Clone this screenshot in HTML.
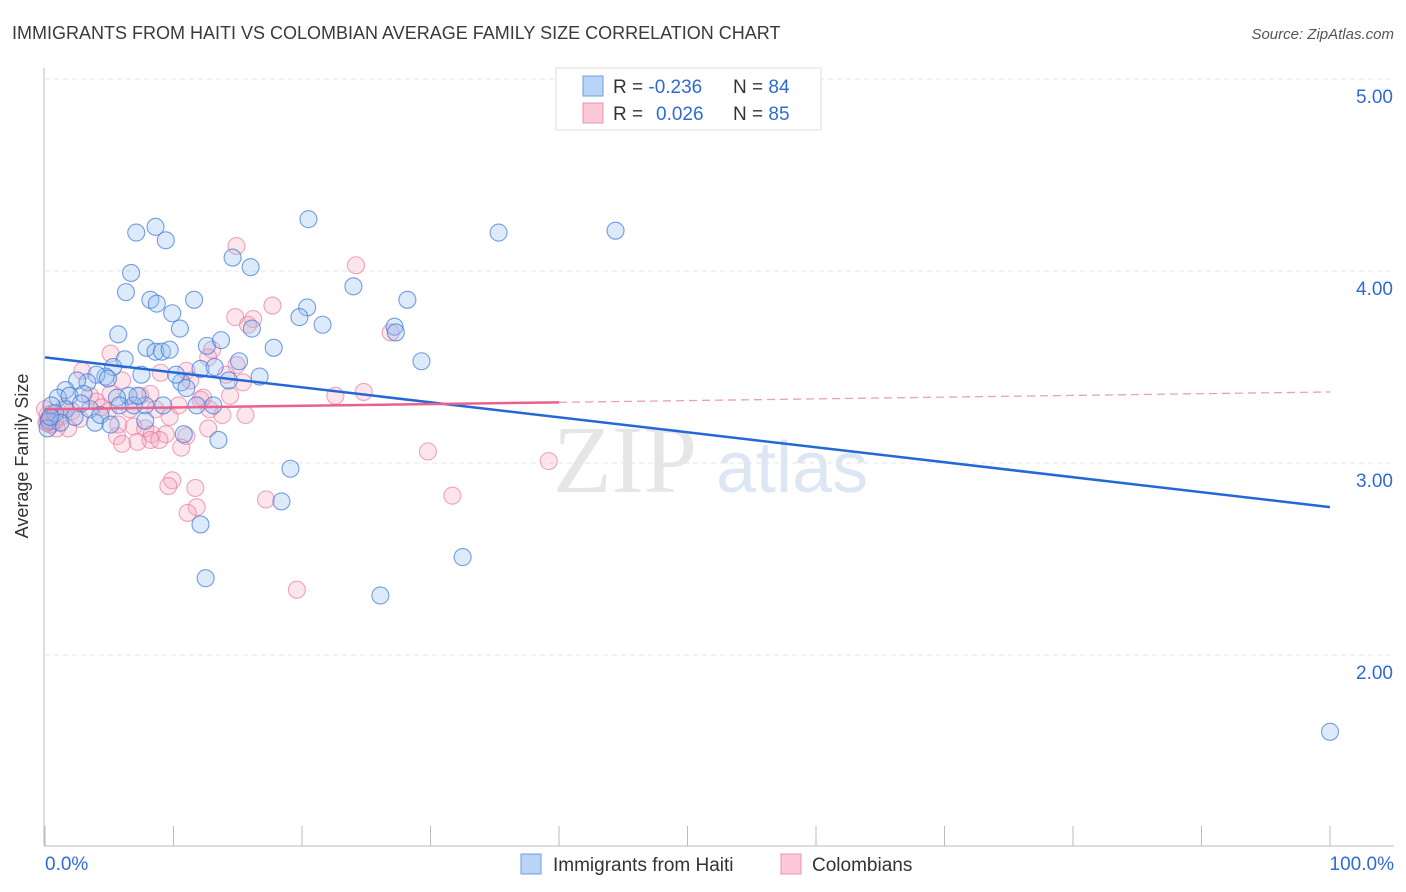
<!DOCTYPE html>
<html><head><meta charset="utf-8"><style>
body{margin:0;background:#fff;font-family:"Liberation Sans",sans-serif}
svg{display:block}
</style></head><body>
<svg id="chart" width="1406" height="892" xmlns="http://www.w3.org/2000/svg">
<text x="12" y="39" font-size="18" fill="#3a3a3a">IMMIGRANTS FROM HAITI VS COLOMBIAN AVERAGE FAMILY SIZE CORRELATION CHART</text>
<text x="1394" y="39" font-size="15" font-style="italic" fill="#555" text-anchor="end">Source: ZipAtlas.com</text>
<text x="28" y="456" font-size="18" fill="#333" text-anchor="middle" transform="rotate(-90 28 456)">Average Family Size</text>
<g><text x="553" y="492" font-size="96" font-family="Liberation Serif,serif" fill="#e6e6e6">ZIP</text><text x="716" y="492" font-size="72" fill="#dde7f4">atlas</text></g>
<g id="grid"></g><g id="axes"></g><g id="pts"></g><g id="lines"></g>
<g>
<rect x="556" y="68" width="265" height="62" fill="#fff" stroke="#ddd"/>
<rect x="583" y="76" width="20" height="20" fill="#b9d4f7" stroke="#6d9de6"/>
<rect x="583" y="103" width="20" height="20" fill="#fbc9d8" stroke="#eb93ad"/>
<text x="613" y="93" font-size="19" fill="#333">R = <tspan fill="#2f6bd5">-0.236</tspan><tspan x="733">N = </tspan><tspan fill="#2f6bd5">84</tspan></text>
<text x="613" y="120" font-size="19" fill="#333">R = <tspan fill="#2f6bd5" x="656">0.026</tspan><tspan x="733">N = </tspan><tspan fill="#2f6bd5">85</tspan></text>
</g>
<g>
<rect x="521" y="854" width="20" height="20" fill="#b9d4f7" stroke="#6d9de6"/>
<text x="553" y="871" font-size="19" fill="#333">Immigrants from Haiti</text>
<rect x="781" y="854" width="20" height="20" fill="#fbc9d8" stroke="#eb93ad"/>
<text x="812" y="871" font-size="19" fill="#333">Colombians</text>
</g>
</svg>
<script>
const yTicks=[5,4,3,2];
const yTickLabels=["5.00","4.00","3.00","2.00"];
const xTickLabels=["0.0%","100.0%"];
const blueX=[7.1,8.6,9.4,6.7,6.3,8.2,8.7,11.6,9.9,10.5,5.7,7.9,8.6,9.1,9.7,6.2,12.6,13.7,14.6,16.0,16.1,15.1,17.8,16.7,20.5,20.4,19.8,21.6,24.0,28.2,27.2,27.3,29.3,35.3,44.4,12.1,13.2,14.3,10.6,11.0,7.5,5.3,4.7,4.0,4.9,3.3,2.5,1.6,1.0,1.9,3.0,6.5,5.6,7.8,9.2,11.8,13.1,5.8,3.5,1.6,2.3,0.8,0.3,3.9,7.8,10.8,13.5,19.1,18.4,12.1,12.5,32.5,26.1,100,0.5,1.2,4.3,6.9,7.2,10.2,5.1,2.8,0.2,0.4];
const blueY=[4.20,4.23,4.16,3.99,3.89,3.85,3.83,3.85,3.78,3.70,3.67,3.60,3.58,3.58,3.59,3.54,3.61,3.64,4.07,4.02,3.70,3.53,3.60,3.45,4.27,3.81,3.76,3.72,3.92,3.85,3.71,3.68,3.53,4.20,4.21,3.49,3.50,3.43,3.42,3.39,3.46,3.50,3.45,3.46,3.44,3.42,3.43,3.38,3.34,3.35,3.36,3.35,3.34,3.30,3.30,3.30,3.30,3.30,3.28,3.28,3.24,3.26,3.22,3.21,3.22,3.15,3.12,2.97,2.80,2.68,2.40,2.51,2.31,1.60,3.30,3.21,3.25,3.30,3.35,3.46,3.20,3.31,3.18,3.24];
const pinkX=[14.9,24.2,17.7,14.8,16.2,15.8,26.9,5.1,13.0,12.7,14.9,9.0,2.9,11.0,14.1,11.3,15.4,6.0,8.2,5.1,24.8,22.6,3.5,12.1,10.4,12.8,8.6,6.6,4.9,15.6,13.8,2.1,1.2,2.7,0.5,5.7,6.9,1.8,12.7,7.8,8.3,9.4,11.0,5.6,8.2,8.9,7.2,6.0,10.6,29.8,39.2,9.9,9.6,11.7,17.2,31.7,11.8,11.1,19.6,0.2,0.4,0.8,0.1,1.5,4.0,4.4,7.4,9.7,14.4,12.3,0.9,0.0,0.3,0.6,0.2];
const pinkY=[4.13,4.03,3.82,3.76,3.75,3.72,3.68,3.57,3.59,3.55,3.51,3.47,3.48,3.48,3.46,3.43,3.42,3.43,3.36,3.36,3.37,3.35,3.35,3.33,3.30,3.28,3.28,3.28,3.27,3.25,3.25,3.27,3.24,3.23,3.20,3.20,3.19,3.18,3.18,3.18,3.15,3.15,3.14,3.14,3.12,3.12,3.11,3.10,3.08,3.06,3.01,2.91,2.88,2.87,2.81,2.83,2.77,2.74,2.34,3.25,3.20,3.22,3.21,3.29,3.32,3.29,3.35,3.24,3.35,3.34,3.18,3.28,3.23,3.26,3.21];
const blueTrend=[3.55,2.77];
const pinkTrend=[3.28,3.37];
const pinkSolidEnd=40;

const NS="http://www.w3.org/2000/svg";
const sx=v=>45+v*12.85;
const sy=v=>79+(5-v)*192;
function mk(tag,attrs,parent){const e=document.createElementNS(NS,tag);for(const k in attrs)e.setAttribute(k,attrs[k]);parent.appendChild(e);return e;}
const grid=document.getElementById('grid'),axes=document.getElementById('axes'),pts=document.getElementById('pts'),lines=document.getElementById('lines');
yTicks.forEach((t,i)=>{
 const l=mk('line',{x1:45,x2:1394,y1:sy(t),y2:sy(t),stroke:'#e4e4e4','stroke-dasharray':'5 4'},grid);
 
 
 const tx=mk('text',{x:1393,y:sy(t)+24,'font-size':19,fill:'#2f6bd5','text-anchor':'end'},axes);
 tx.textContent=yTickLabels[i];
 
 
});
const ax=mk('line',{x1:44,x2:44,y1:68,y2:846,stroke:'#bbb'},axes);


const bx=mk('line',{x1:44,x2:1394,y1:846,y2:846,stroke:'#bbb'},axes);


for(let i=0;i<=10;i++){const t=mk('line',{x1:sx(i*10),x2:sx(i*10),y1:826,y2:846,stroke:'#bbb'},axes);
 
 }
xTickLabels.forEach((s,i)=>{const t=mk('text',{x:i?1394:45,y:870,'font-size':19,fill:'#2f6bd5','text-anchor':i?'end':'start'},axes);t.textContent=s;
 
 });
pinkX.forEach((x,i)=>{const c=mk('circle',{cx:sx(x),cy:sy(pinkY[i]),r:8.5,fill:'rgba(247,160,188,0.28)',stroke:'rgba(232,120,155,0.65)','stroke-width':1.1},pts);
 
 });
blueX.forEach((x,i)=>{const c=mk('circle',{cx:sx(x),cy:sy(blueY[i]),r:8.5,fill:'rgba(150,190,240,0.32)',stroke:'rgba(60,120,215,0.7)','stroke-width':1.1},pts);
 
 });
const bl=mk('line',{x1:sx(0),y1:sy(blueTrend[0]),x2:sx(100),y2:sy(blueTrend[1]),stroke:'#2368d6','stroke-width':2.5},lines);


const pm=pinkTrend[0]+(pinkTrend[1]-pinkTrend[0])*pinkSolidEnd/100;
const pl=mk('line',{x1:sx(0),y1:sy(pinkTrend[0]),x2:sx(pinkSolidEnd),y2:sy(pm),stroke:'#e8638c','stroke-width':2.5},lines);


const pd=mk('line',{x1:sx(pinkSolidEnd),y1:sy(pm),x2:sx(100),y2:sy(pinkTrend[1]),stroke:'#eaa0b6','stroke-width':1.3,'stroke-dasharray':'8 5'},lines);


</script>
</body></html>
